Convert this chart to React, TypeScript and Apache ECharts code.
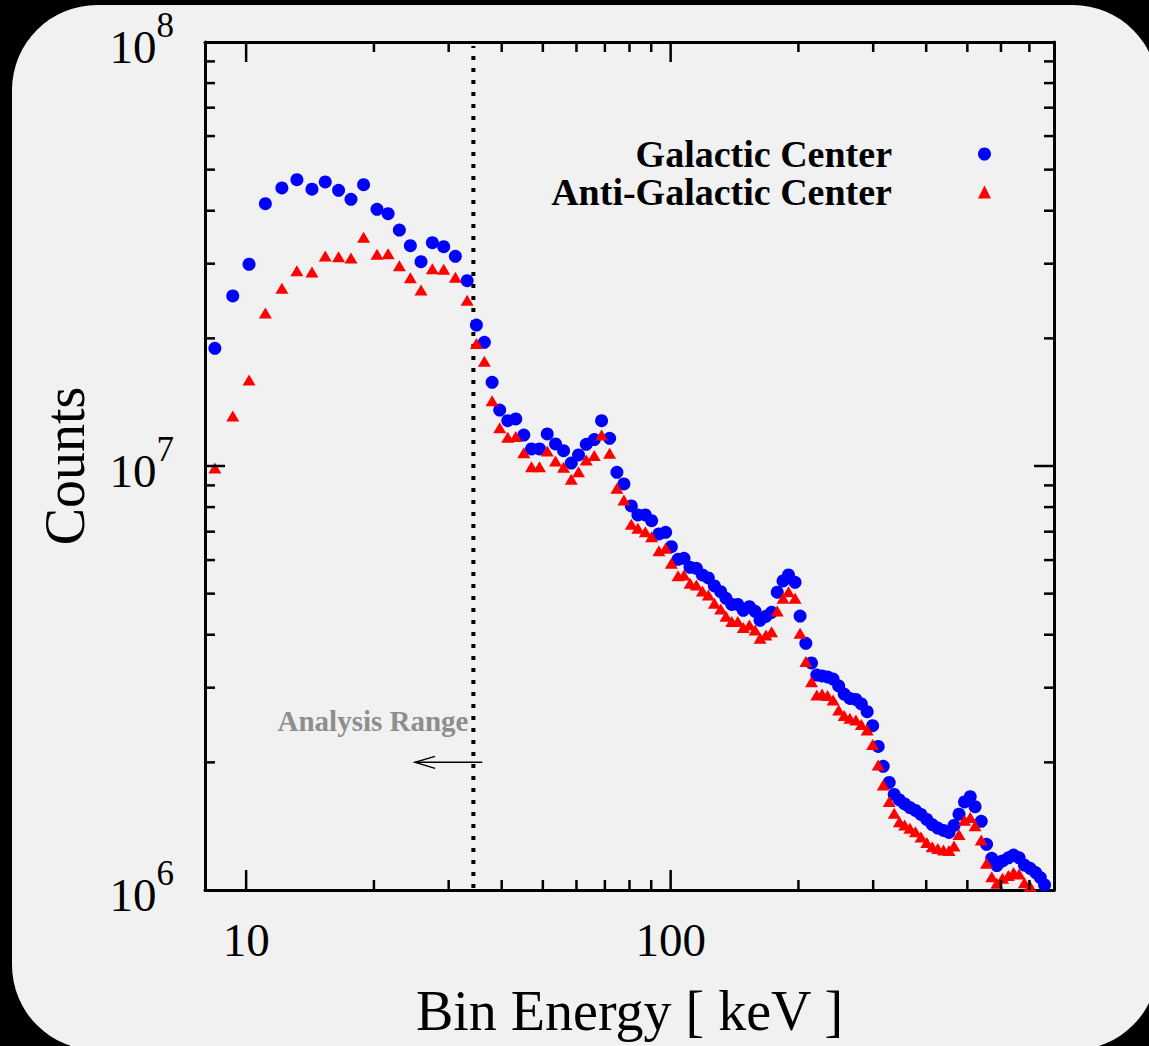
import React, { useEffect, useRef } from 'react';
import * as echarts from 'echarts';

// ---------- data ----------
const energyKeV = [
  8.44, 9.30, 10.16, 11.10, 12.14, 13.17, 14.29, 15.36, 16.51, 17.66,
  18.91, 20.34, 21.60, 22.96, 24.37, 25.82, 27.46, 29.20, 31.11, 33.16,
  34.87, 36.41, 37.97, 39.57, 41.33, 43.17, 45.09, 47.01, 49.10, 51.20,
  53.56, 55.94, 58.33, 60.68, 63.28, 66.09, 68.76, 71.82, 74.72, 77.61,
  80.79, 83.74, 87.17, 90.20, 93.85, 97.32, 100.4, 104.1, 107.5, 111.1,
  115.0, 118.8, 122.7, 126.8, 131.2, 135.0, 139.3, 143.9, 148.3, 153.3,
  158.1, 162.4, 167.7, 172.9, 178.3, 184.0, 189.5, 196.4, 201.8, 208.2,
  214.7, 221.0, 227.4, 234.2, 241.4, 248.8, 256.3, 264.4, 273.1, 281.4,
  290.4, 299.1, 308.3, 316.8, 327.3, 336.3, 345.9, 355.8, 366.2, 377.3,
  388.8, 401.2, 413.2, 425.9, 439.3, 452.6, 465.1, 477.9, 492.4, 507.9,
  521.3, 539.1, 554.9, 570.7, 586.8, 605.2, 624.6, 642.5, 662.0, 681.3,
  702.7, 724.0, 742.7, 760.2,
];

const galacticCenter = [
  1.895e7, 2.518e7, 2.991e7, 4.156e7, 4.526e7, 4.734e7, 4.495e7, 4.676e7, 4.470e7, 4.256e7,
  4.607e7, 4.031e7, 3.936e7, 3.602e7, 3.309e7, 3.033e7, 3.363e7, 3.291e7, 3.123e7, 2.735e7,
  2.150e7, 1.958e7, 1.575e7, 1.355e7, 1.279e7, 1.291e7, 1.183e7, 1.097e7, 1.097e7, 1.190e7,
  1.127e7, 1.087e7, 1.016e7, 1.062e7, 1.125e7, 1.154e7, 1.279e7, 1.162e7, 9.664e6, 9.070e6,
  8.048e6, 7.665e6, 7.665e6, 7.432e6, 6.914e6, 6.978e6, 6.453e6, 6.026e6, 6.058e6, 5.770e6,
  5.738e6, 5.533e6, 5.444e6, 5.212e6, 5.054e6, 4.875e6, 4.714e6, 4.714e6, 4.568e6, 4.658e6,
  4.543e6, 4.326e6, 4.421e6, 4.518e6, 5.040e6, 5.356e6, 5.533e6, 5.318e6, 4.428e6, 3.818e6,
  3.432e6, 3.214e6, 3.197e6, 3.180e6, 3.145e6, 3.028e6, 2.899e6, 2.830e6, 2.814e6, 2.746e6,
  2.634e6, 2.441e6, 2.180e6, 1.958e6, 1.793e6, 1.680e6, 1.631e6, 1.596e6, 1.565e6, 1.540e6,
  1.507e6, 1.467e6, 1.427e6, 1.400e6, 1.382e6, 1.367e6, 1.420e6, 1.509e6, 1.613e6, 1.660e6,
  1.572e6, 1.452e6, 1.282e6, 1.188e6, 1.142e6, 1.171e6, 1.191e6, 1.209e6, 1.191e6, 1.145e6,
  1.125e6, 1.099e6, 1.070e6, 1.028e6,
];

const antiGalacticCenter = [
  9.892e6, 1.312e7, 1.596e7, 2.296e7, 2.625e7, 2.888e7, 2.868e7, 3.128e7, 3.116e7, 3.094e7,
  3.464e7, 3.157e7, 3.168e7, 2.968e7, 2.780e7, 2.601e7, 2.920e7, 2.911e7, 2.786e7, 2.460e7,
  1.946e7, 1.766e7, 1.426e7, 1.231e7, 1.169e7, 1.173e7, 1.075e7, 9.962e6, 9.962e6, 1.085e7,
  1.028e7, 9.930e6, 9.303e6, 9.695e6, 1.033e7, 1.058e7, 1.183e7, 1.071e7, 8.861e6, 8.315e6,
  7.288e6, 7.132e6, 7.000e6, 6.813e6, 6.314e6, 6.397e6, 5.896e6, 5.512e6, 5.533e6, 5.289e6,
  5.241e6, 5.073e6, 4.963e6, 4.745e6, 4.600e6, 4.421e6, 4.298e6, 4.298e6, 4.160e6, 4.217e6,
  4.104e6, 3.923e6, 3.994e6, 4.067e6, 4.550e6, 4.875e6, 5.054e6, 4.875e6, 4.031e6, 3.460e6,
  3.100e6, 2.884e6, 2.899e6, 2.876e6, 2.807e6, 2.658e6, 2.580e6, 2.541e6, 2.518e6, 2.457e6,
  2.385e6, 2.204e6, 1.972e6, 1.769e6, 1.616e6, 1.517e6, 1.449e6, 1.423e6, 1.398e6, 1.373e6,
  1.334e6, 1.295e6, 1.265e6, 1.252e6, 1.243e6, 1.239e6, 1.270e6, 1.352e6, 1.460e6, 1.483e6,
  1.417e6, 1.312e6, 1.156e6, 1.075e6, 1.037e6, 1.066e6, 1.082e6, 1.100e6, 1.091e6, 1.040e6,
  1.020e6,
];

const seriesNames = ['Galactic Center', 'Anti-Galactic Center'];

// axis ranges and ticks
const energyMin = 8;
const energyMax = 800;
const countsMin = 1e6;
const countsMax = 1e8;
const xMajorTicks = [10, 100];
const xMinorTicks = [20, 30, 40, 50, 60, 70, 80, 90, 200, 300, 400, 500, 600, 700];
const yMajorTicks = [1e7];
const yMinorTicks = [
  2e6, 3e6, 4e6, 5e6, 6e6, 7e6, 8e6, 9e6,
  2e7, 3e7, 4e7, 5e7, 6e7, 7e7, 8e7, 9e7,
];

// annotation
const cutoffKeV = 34.3;
const arrowFromKeV = 36.0;
const arrowToKeV = 25.0;
const arrowCounts = 2e6;
const annotationText = 'Analysis Range';
const annotationKeV = 33.4;
const annotationCounts = 2.5e6;

const FONT = "'Liberation Serif', 'Times New Roman', Times, serif";

function isPow10(v: number) {
  const l = Math.log10(v);
  return Math.abs(l - Math.round(l)) < 1e-6;
}

function xTickSeries(values: number[], len: number) {
  return {
    type: 'custom',
    coordinateSystem: 'cartesian2d',
    silent: true,
    clip: false,
    z: 5,
    data: values.map((v) => [v, countsMin]),
    renderItem: (params: any, api: any) => {
      const p = api.coord([api.value(0), countsMin]);
      const cs = params.coordSys;
      const style = { stroke: '#000', lineWidth: 2.5 };
      return {
        type: 'group',
        children: [
          { type: 'line', shape: { x1: p[0], y1: cs.y + cs.height, x2: p[0], y2: cs.y + cs.height - len }, style },
          { type: 'line', shape: { x1: p[0], y1: cs.y, x2: p[0], y2: cs.y + len }, style },
        ],
      };
    },
  };
}

function yTickSeries(values: number[], len: number) {
  return {
    type: 'custom',
    coordinateSystem: 'cartesian2d',
    silent: true,
    clip: false,
    z: 5,
    data: values.map((v) => [energyMin, v]),
    renderItem: (params: any, api: any) => {
      const p = api.coord([energyMin, api.value(1)]);
      const cs = params.coordSys;
      const style = { stroke: '#000', lineWidth: 2.5 };
      return {
        type: 'group',
        children: [
          { type: 'line', shape: { x1: cs.x, y1: p[1], x2: cs.x + len, y2: p[1] }, style },
          { type: 'line', shape: { x1: cs.x + cs.width, y1: p[1], x2: cs.x + cs.width - len, y2: p[1] }, style },
        ],
      };
    },
  };
}

export default function App() {
  const ref = useRef<HTMLDivElement>(null);

  useEffect(() => {
    document.body.style.margin = '0';
    if (!ref.current) return;
    const chart = echarts.init(ref.current, null, { renderer: 'svg' });

    const axisLine = { show: true, onZero: false, lineStyle: { color: '#000', width: 3 } };

    const option: any = {
      animation: false,
      backgroundColor: '#000',
      graphic: [
        {
          type: 'rect',
          z: -10,
          silent: true,
          shape: { x: 12, y: 5, width: 1146, height: 1045, r: 85 },
          style: { fill: '#f1f1f1' },
        },
      ],
      grid: { left: 205, top: 42, width: 849, height: 848, containLabel: false, outerBoundsMode: 'none' },
      legend: {
        orient: 'vertical',
        align: 'right',
        right: 153,
        top: 130,
        itemGap: 0,
        itemWidth: 13,
        itemHeight: 13,
        selectedMode: false,
        textStyle: {
          fontFamily: FONT,
          fontWeight: 'bold',
          fontSize: 38,
          lineHeight: 38,
          color: '#000',
          padding: [0, 81, 0, 0],
        },
        data: [
          { name: seriesNames[0], icon: 'circle', itemStyle: { opacity: 1 } },
          { name: seriesNames[1], icon: 'triangle', itemStyle: { opacity: 1 } },
        ],
      },
      xAxis: [
        {
          type: 'log',
          logBase: 10,
          min: energyMin,
          max: energyMax,
          position: 'bottom',
          axisLine,
          axisTick: { show: false },
          splitLine: { show: false },
          minorTick: { show: false },
          axisLabel: {
            color: '#000',
            fontFamily: FONT,
            fontSize: 47,
            margin: 26,
            formatter: (v: number) => (isPow10(v) ? String(Math.round(v)) : ''),
          },
          name: 'Bin Energy [ keV ]',
          nameLocation: 'middle',
          nameGap: 93,
          nameMoveOverlap: false,
          nameTextStyle: { fontFamily: FONT, fontSize: 56, color: '#000' },
        },
        {
          type: 'log',
          logBase: 10,
          min: energyMin,
          max: energyMax,
          position: 'top',
          axisLine,
          axisTick: { show: false },
          splitLine: { show: false },
          axisLabel: { show: false },
        },
      ],
      yAxis: [
        {
          type: 'log',
          logBase: 10,
          min: countsMin,
          max: countsMax,
          position: 'left',
          axisLine,
          axisTick: { show: false },
          splitLine: { show: false },
          minorTick: { show: false },
          axisLabel: {
            color: '#000',
            margin: 31,
            formatter: (v: number) =>
              isPow10(v) ? `{b|10}{s|${Math.round(Math.log10(v))}}` : '',
            rich: {
              b: { fontFamily: FONT, fontSize: 47, lineHeight: 68, padding: [15.5, 0, 5.5, 0], verticalAlign: 'bottom', color: '#000' },
              s: { fontFamily: FONT, fontSize: 35, lineHeight: 35, verticalAlign: 'top', color: '#000' },
            },
          },
          name: 'Counts',
          nameLocation: 'middle',
          nameGap: 112,
          nameRotate: 90,
          nameMoveOverlap: false,
          nameTextStyle: { fontFamily: FONT, fontSize: 56, color: '#000' },
        },
        {
          type: 'log',
          logBase: 10,
          min: countsMin,
          max: countsMax,
          position: 'right',
          axisLine,
          axisTick: { show: false },
          splitLine: { show: false },
          axisLabel: { show: false },
        },
      ],
      series: [
        {
          type: 'custom',
          name: 'annotation',
          coordinateSystem: 'cartesian2d',
          silent: true,
          clip: false,
          z: 1,
          data: [[cutoffKeV, arrowCounts]],
          renderItem: (params: any, api: any) => {
            const top = api.coord([cutoffKeV, countsMax]);
            const bot = api.coord([cutoffKeV, countsMin]);
            const a0 = api.coord([arrowFromKeV, arrowCounts]);
            const a1 = api.coord([arrowToKeV, arrowCounts]);
            const lab = api.coord([annotationKeV, annotationCounts]);
            return {
              type: 'group',
              children: [
                {
                  type: 'line',
                  shape: { x1: bot[0], y1: bot[1] - 2, x2: top[0], y2: top[1] + 4 },
                  style: { stroke: '#000', lineWidth: 4, lineDash: [4, 8] },
                },
                {
                  type: 'line',
                  shape: { x1: a0[0], y1: a0[1], x2: a1[0], y2: a1[1] },
                  style: { stroke: '#000', lineWidth: 1.5 },
                },
                {
                  type: 'polyline',
                  shape: { points: [[a1[0] + 20, a1[1] - 6], [a1[0], a1[1]], [a1[0] + 20, a1[1] + 6]] },
                  style: { stroke: '#000', fill: null, lineWidth: 1.5 },
                },
                {
                  type: 'text',
                  x: lab[0],
                  y: lab[1],
                  style: {
                    text: annotationText,
                    align: 'right',
                    verticalAlign: 'middle',
                    fontFamily: FONT,
                    fontWeight: 'bold',
                    fontSize: 29,
                    fill: '#8e8e8e',
                  },
                },
              ],
            };
          },
        },
        {
          type: 'scatter',
          name: seriesNames[0],
          symbol: 'circle',
          symbolSize: 13,
          itemStyle: { color: '#0000ff', opacity: 1 },
          z: 3,
          data: energyKeV.map((e, i) => [e, galacticCenter[i]]),
        },
        {
          type: 'scatter',
          name: seriesNames[1],
          symbol: 'triangle',
          symbolSize: [13, 11],
          itemStyle: { color: '#ff0000', opacity: 1 },
          z: 4,
          data: antiGalacticCenter.map((v, i) => [energyKeV[i], v]),
        },
        xTickSeries(xMajorTicks, 20),
        xTickSeries(xMinorTicks, 10),
        yTickSeries(yMajorTicks, 20),
        yTickSeries(yMinorTicks, 10),
      ],
    };

    chart.setOption(option);
    return () => chart.dispose();
  }, []);

  return (
    <div
      ref={ref}
      style={{ position: 'fixed', left: 0, top: 0, width: 1149, height: 1046, background: '#000' }}
    />
  );
}
